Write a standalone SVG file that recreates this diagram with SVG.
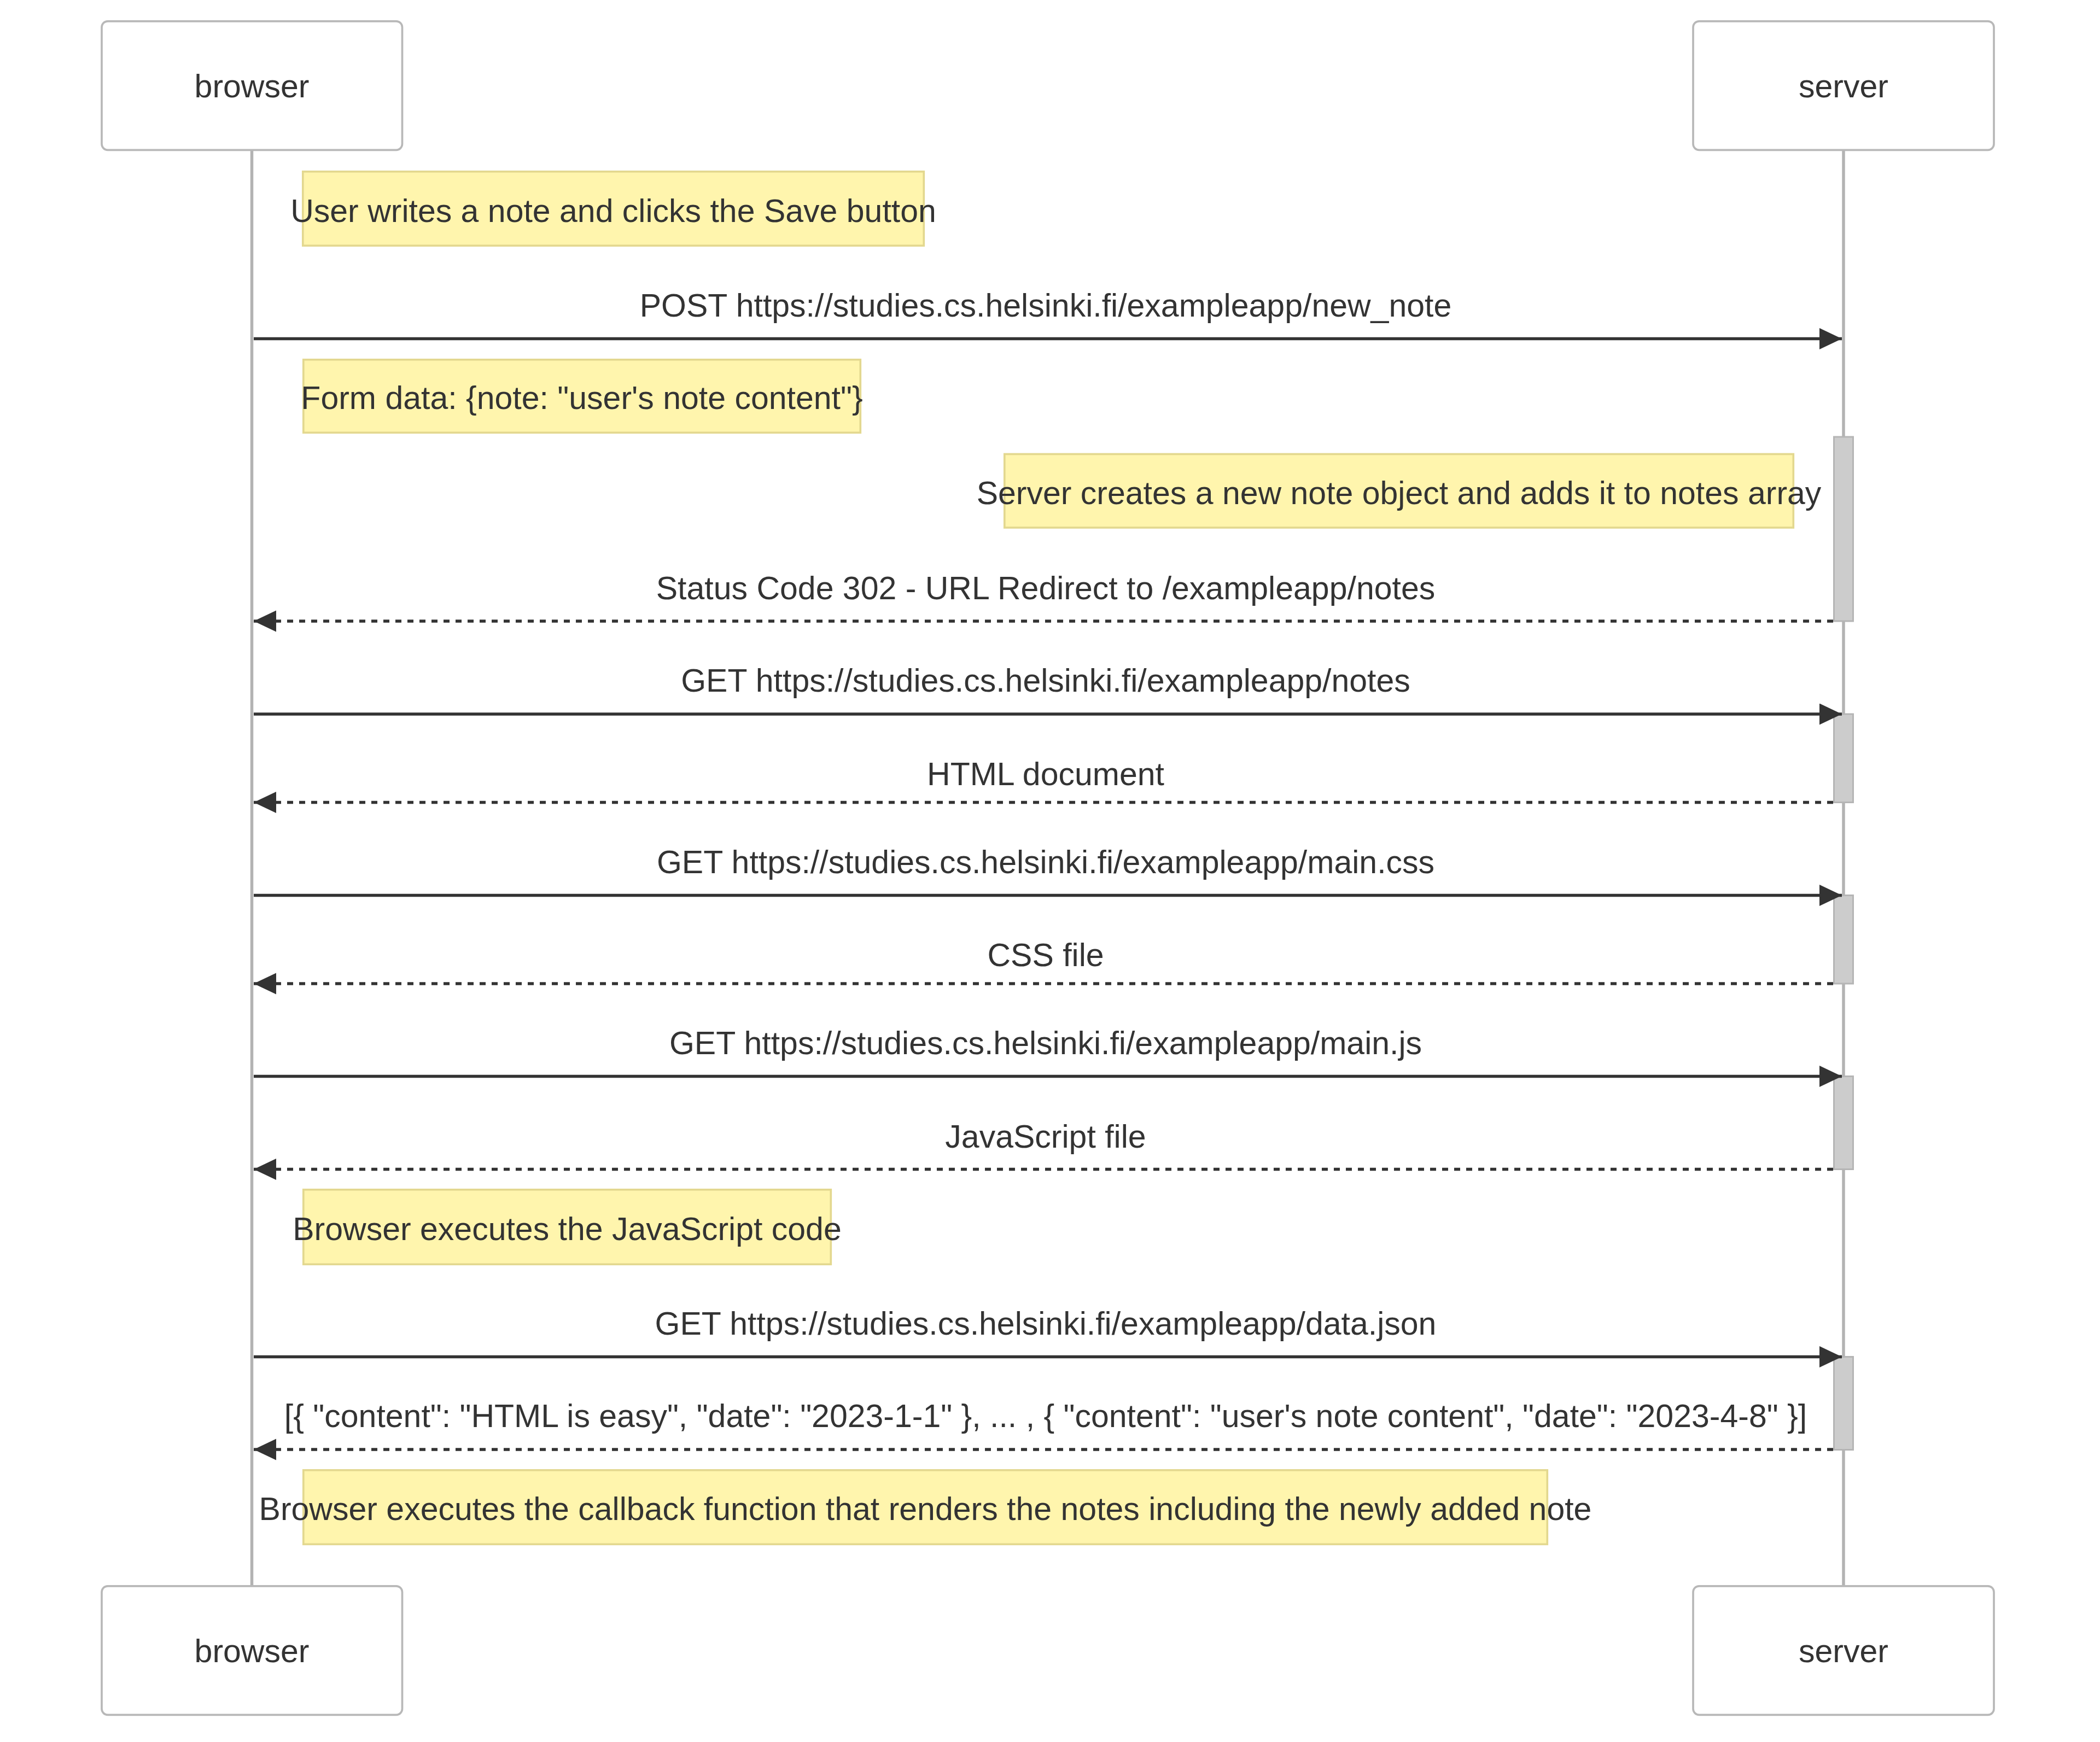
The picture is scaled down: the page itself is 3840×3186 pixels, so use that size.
<svg xmlns="http://www.w3.org/2000/svg" width="3840" height="3186" viewBox="0 0 3840 3186">
  <style>
    text { font-family: "Liberation Sans", Arial, sans-serif; font-size: 59px; fill: #333333; text-anchor: middle; }
    .actor { fill: #ffffff; stroke: #b8b8b8; stroke-width: 3.67; }
    .lifeline { stroke: #b3b3b3; stroke-width: 5.5; }
    .note { fill: #fff5ad; stroke: #e3d88f; stroke-width: 3.67; }
    .activation { fill: #cccccc; stroke: #b5b5b5; stroke-width: 3; }
    .msg { stroke: #333333; stroke-width: 5.5; fill: none; marker-end: url(#arrowhead); }
    .reply { stroke-dasharray: 11 11; }
  </style>
  <defs>
    <marker id="arrowhead" markerUnits="userSpaceOnUse" markerWidth="42" markerHeight="40" refX="41" refY="19.5" orient="auto">
      <path d="M0,0 L41,19.5 L0,39 z" fill="#333333"/>
    </marker>
  </defs>

  <rect width="3840" height="3186" fill="#ffffff"/>

  <!-- lifelines -->
  <g id="lifelines">
    <line class="lifeline" x1="460.5" y1="276" x2="460.5" y2="2899"/>
    <line class="lifeline" x1="3371" y1="276" x2="3371" y2="2899"/>
  </g>

  <!-- participants, top and bottom -->
  <g id="browser-top">
    <rect class="actor" x="186" y="38.8" width="549.5" height="235.5" rx="11" ry="11"/>
    <text x="460.5" y="178">browser</text>
  </g>
  <g id="server-top">
    <rect class="actor" x="3096" y="38.8" width="550" height="235.5" rx="11" ry="11"/>
    <text x="3371" y="178">server</text>
  </g>
  <g id="browser-bottom">
    <rect class="actor" x="186" y="2900.8" width="549.5" height="235.5" rx="11" ry="11"/>
    <text x="460.5" y="3040">browser</text>
  </g>
  <g id="server-bottom">
    <rect class="actor" x="3096" y="2900.8" width="550" height="235.5" rx="11" ry="11"/>
    <text x="3371" y="3040">server</text>
  </g>

  <!-- server activation bars -->
  <g id="activations">
    <rect class="activation" x="3353.5" y="799" width="35" height="337"/>
    <rect class="activation" x="3353.5" y="1306" width="35" height="161.5"/>
    <rect class="activation" x="3353.5" y="1637.5" width="35" height="161.5"/>
    <rect class="activation" x="3353.5" y="1968.5" width="35" height="170"/>
    <rect class="activation" x="3353.5" y="2481.5" width="35" height="170"/>
  </g>

  <!-- notes -->
  <g id="note-save">
    <rect class="note" x="553.8" y="313.8" width="1135.5" height="135.5"/>
    <text x="1121.5" y="406">User writes a note and clicks the Save button</text>
  </g>
  <g id="note-form-data">
    <rect class="note" x="554.8" y="657.8" width="1018.5" height="133.5"/>
    <text x="1064" y="748">Form data: {note: "user's note content"}</text>
  </g>
  <g id="note-server-creates">
    <rect class="note" x="1836.8" y="830.5" width="1442.5" height="134.5"/>
    <text x="2558" y="922">Server creates a new note object and adds it to notes array</text>
  </g>
  <g id="note-exec-js">
    <rect class="note" x="554.8" y="2175.8" width="964.5" height="136.5"/>
    <text x="1037" y="2268">Browser executes the JavaScript code</text>
  </g>
  <g id="note-callback">
    <rect class="note" x="554.8" y="2688.8" width="2274.5" height="135.5"/>
    <text x="1692" y="2780">Browser executes the callback function that renders the notes including the newly added note</text>
  </g>

  <!-- messages -->
  <g id="connectors">
    <line class="msg" x1="464" y1="619.5" x2="3368" y2="619.5"/>
    <line class="msg reply" x1="3352" y1="1136" x2="464" y2="1136"/>
    <line class="msg" x1="464" y1="1306" x2="3368" y2="1306"/>
    <line class="msg reply" x1="3352" y1="1467.5" x2="464" y2="1467.5"/>
    <line class="msg" x1="464" y1="1637.5" x2="3368" y2="1637.5"/>
    <line class="msg reply" x1="3352" y1="1799" x2="464" y2="1799"/>
    <line class="msg" x1="464" y1="1968.5" x2="3368" y2="1968.5"/>
    <line class="msg reply" x1="3352" y1="2138.5" x2="464" y2="2138.5"/>
    <line class="msg" x1="464" y1="2481.5" x2="3368" y2="2481.5"/>
    <line class="msg reply" x1="3352" y1="2651" x2="464" y2="2651"/>
  </g>

  <!-- message labels -->
  <g id="message-labels">
    <text x="1912" y="579">POST https://studies.cs.helsinki.fi/exampleapp/new_note</text>
    <text x="1912" y="1096">Status Code 302 - URL Redirect to /exampleapp/notes</text>
    <text x="1912" y="1265">GET https://studies.cs.helsinki.fi/exampleapp/notes</text>
    <text x="1912" y="1436">HTML document</text>
    <text x="1912" y="1597">GET https://studies.cs.helsinki.fi/exampleapp/main.css</text>
    <text x="1912" y="1767">CSS file</text>
    <text x="1912" y="1928">GET https://studies.cs.helsinki.fi/exampleapp/main.js</text>
    <text x="1912" y="2099">JavaScript file</text>
    <text x="1912" y="2441">GET https://studies.cs.helsinki.fi/exampleapp/data.json</text>
    <text x="1912" y="2610">[{ "content": "HTML is easy", "date": "2023-1-1" }, ... , { "content": "user's note content", "date": "2023-4-8" }]</text>
  </g>
</svg>
